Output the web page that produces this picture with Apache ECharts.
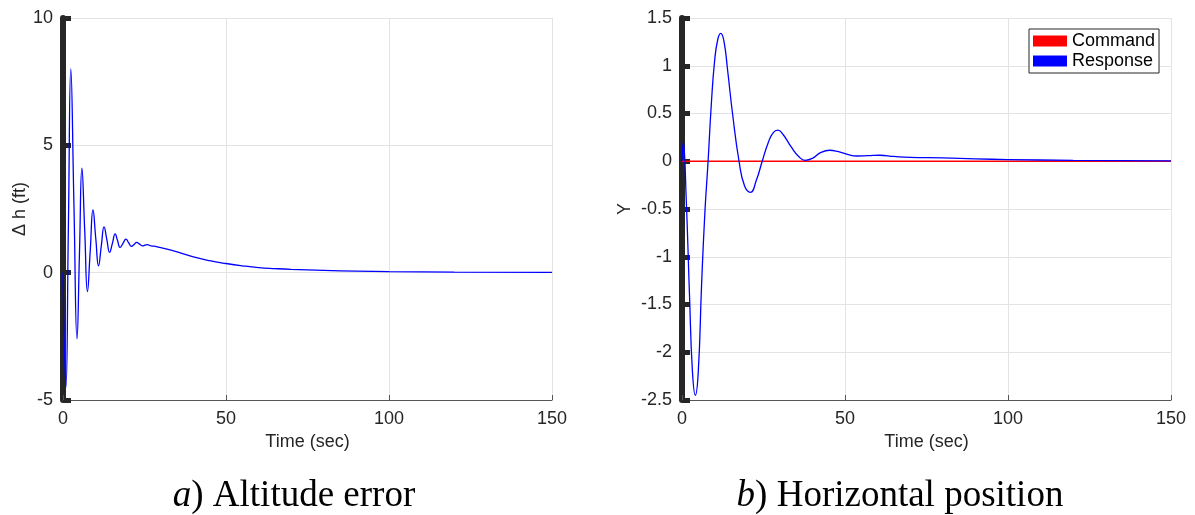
<!DOCTYPE html>
<html>
<head>
<meta charset="utf-8">
<script src="https://cdn.jsdelivr.net/npm/echarts@6/dist/echarts.min.js"></script>
<style>
  html, body { margin: 0; padding: 0; background: #fff; }
  #main { width: 1195px; height: 515px; }
</style>
</head>
<body>
<div id="main"></div>
<script>
// altitude error (ft) vs time (sec)
var altTime = [0, 0.9, 1.65, 2.4, 3.35, 4.3, 5.05, 5.8, 6.65, 7.5, 8.35, 9.2, 10.05, 10.9, 11.75, 12.6,
    13.45, 14.3, 15.15, 16.0, 16.75, 17.5, 18.4, 19.3, 20.15, 21.0, 21.8, 22.6, 23.5, 24.4, 25.15, 25.9,
    27, 28, 30, 35, 40, 45, 50, 55, 60, 65, 70, 80, 90, 100, 120, 150];
var altValue = [0, -4.5, 1.8, 8.0, 2.7, -2.6, 0.75, 4.1, 1.7, -0.74, 0.85, 2.46, 1.35, 0.27, 1.05, 1.8,
    1.3, 0.8, 1.15, 1.52, 1.25, 0.99, 1.15, 1.32, 1.17, 1.03, 1.11, 1.19, 1.12, 1.05, 1.08, 1.10,
    1.05, 1.04, 0.98, 0.82, 0.62, 0.47, 0.36, 0.27, 0.2, 0.16, 0.13, 0.09, 0.06, 0.04, 0.02, 0.01];

// horizontal position
var posTime = [0, 0.4, 1.3, 2.3, 3.2, 4.1, 5.0, 6.0, 7.0, 8.0, 9.0, 10.0, 11.0, 11.9, 12.9, 14.0, 15.5,
    17.5, 19.2, 21.0, 22.8, 24.6, 26.5, 28, 29.4, 31, 33.5, 35.8, 37.8, 40, 42.5, 45.3, 48, 51, 53.5,
    57, 60.7, 65, 70, 80, 90, 100, 120, 150];
var posValue = [0, 0.2, -0.4, -1.4, -2.2, -2.45, -2.2, -1.3, -0.55, 0.0, 0.6, 1.05, 1.28, 1.34, 1.25, 0.95, 0.5,
    0.0, -0.26, -0.325, -0.2, 0.0, 0.2, 0.3, 0.325, 0.28, 0.15, 0.05, 0.01, 0.03, 0.09, 0.115, 0.1, 0.07, 0.055,
    0.058, 0.063, 0.05, 0.04, 0.035, 0.025, 0.018, 0.01, 0.003];

var cmdTime = [0, 150];
var cmdValue = [0, 0];

function pairs(xs, ys) {
    var out = [];
    for (var i = 0; i < xs.length; i++) {
        out.push([xs[i], ys[i]]);
    }
    return out;
}

var textColor = '#262626';
var fontName = 'Liberation Sans';

function makeX(gridIndex) {
    return {
        type: 'value',
        gridIndex: gridIndex,
        min: 0,
        max: 150,
        interval: 50,
        name: 'Time (sec)',
        nameLocation: 'middle',
        nameGap: 33,
        nameTextStyle: { color: textColor, fontSize: 18, fontFamily: fontName },
        axisLine: { show: true, onZero: false, lineStyle: { color: '#555555', width: 1 } },
        axisTick: { show: true, inside: true, length: 5, lineStyle: { color: '#555555' } },
        axisLabel: { color: textColor, fontSize: 18, fontFamily: fontName, margin: 10 },
        splitLine: { show: true, lineStyle: { color: '#e3e3e3' } }
    };
}

function makeY(gridIndex, min, max, interval, name, gap) {
    return {
        type: 'value',
        gridIndex: gridIndex,
        min: min,
        max: max,
        interval: interval,
        name: name,
        nameLocation: 'middle',
        nameRotate: 90,
        nameGap: gap,
        nameTextStyle: { color: textColor, fontSize: 18, fontFamily: fontName },
        axisLine: { show: true, onZero: false, lineStyle: { color: textColor, width: 6 } },
        axisTick: { show: true, inside: true, length: 8, lineStyle: { color: textColor, width: 5 } },
        axisLabel: { color: textColor, fontSize: 18, fontFamily: fontName, margin: 10 },
        splitLine: { show: true, lineStyle: { color: '#e3e3e3' } }
    };
}

function caption(italic, rest, cx) {
    return {
        text: '{i|' + italic + '}' + rest,
        left: cx, top: 478, textAlign: 'center', padding: 0,
        textStyle: {
            fontFamily: 'Liberation Serif', fontSize: 37, lineHeight: 37, fontWeight: 'normal', color: '#000',
            rich: { i: { fontFamily: 'Liberation Serif', fontSize: 37, lineHeight: 37, fontStyle: 'italic', color: '#000' } }
        }
    };
}

var chart = echarts.init(document.getElementById('main'));

var option = {
    backgroundColor: '#ffffff',
    animation: false,
    title: [
        caption('a', ') Altitude error', 294),
        caption('b', ') Horizontal position', 900)
    ],
    grid: [
        { left: 63, top: 18, width: 489, height: 382 },
        { left: 682, top: 18, width: 489, height: 382 }
    ],
    legend: {
        left: 1029, top: 29,
        orient: 'vertical',
        data: ['Command', 'Response'],
        icon: 'rect',
        itemWidth: 34,
        itemHeight: 11,
        itemGap: 2,
        padding: [3, 4, 3, 4],
        borderColor: textColor,
        borderWidth: 1,
        borderRadius: 0,
        backgroundColor: '#fff',
        textStyle: { color: '#000', fontSize: 18, fontFamily: fontName }
    },
    xAxis: [makeX(0), makeX(1)],
    yAxis: [
        makeY(0, -5, 10, 5, 'Δ h (ft)', 33),
        makeY(1, -2.5, 1.5, 0.5, 'Y', 48)
    ],
    series: [
        {
            name: 'Altitude',
            type: 'line',
            xAxisIndex: 0, yAxisIndex: 0,
            showSymbol: false,
            smooth: 0.5,
            lineStyle: { color: '#0000ff', width: 1.3 },
            itemStyle: { color: '#0000ff' },
            data: pairs(altTime, altValue)
        },
        {
            name: 'Command',
            type: 'line',
            xAxisIndex: 1, yAxisIndex: 1,
            showSymbol: false,
            lineStyle: { color: '#ff0000', width: 1.4 },
            itemStyle: { color: '#ff0000' },
            data: pairs(cmdTime, cmdValue)
        },
        {
            name: 'Response',
            type: 'line',
            xAxisIndex: 1, yAxisIndex: 1,
            showSymbol: false,
            smooth: 0.5,
            lineStyle: { color: '#0000ff', width: 1.3 },
            itemStyle: { color: '#0000ff' },
            data: pairs(posTime, posValue)
        }
    ]
};
chart.setOption(option);
</script>
</body>
</html>
